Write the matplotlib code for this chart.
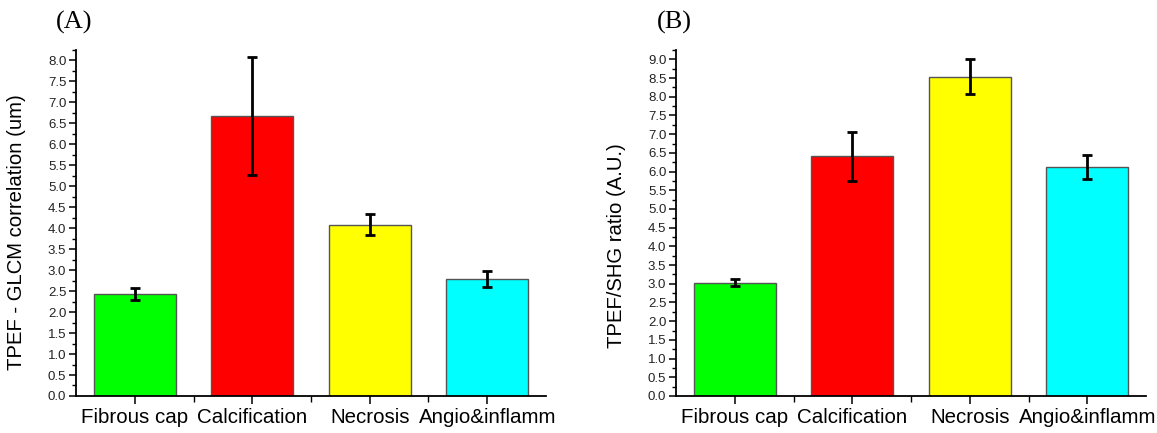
import matplotlib
matplotlib.use("Agg")
import matplotlib.pyplot as plt
from matplotlib.ticker import MultipleLocator, FixedLocator, FormatStrFormatter

categories = ["Fibrous cap", "Calcification", "Necrosis", "Angio&inflamm"]
colors = ["#00ff00", "#ff0000", "#ffff00", "#00ffff"]

glcm_values = [2.43, 6.68, 4.08, 2.79]
glcm_errors = [0.14, 1.40, 0.25, 0.18]

ratio_values = [3.03, 6.41, 8.54, 6.12]
ratio_errors = [0.09, 0.66, 0.46, 0.31]

plt.rcParams["font.family"] = ["Liberation Sans", "DejaVu Sans"]

fig = plt.figure(figsize=(11.57, 4.33), dpi=100)
ax_a = fig.add_axes([0.0657, 0.0855, 0.4062, 0.799])
ax_b = fig.add_axes([0.5843, 0.0855, 0.4062, 0.799])


def draw_panel(ax, values, errors, ylabel, ymax, label_y, panel_tag, tag_x):
    x = list(range(1, len(categories) + 1))
    ax.bar(x, values, width=0.7, color=colors, edgecolor="#555555",
           linewidth=1.0, zorder=2)
    ax.errorbar(x, values, yerr=errors, fmt="none", ecolor="black",
                elinewidth=2.0, capsize=3.5, capthick=2.0, zorder=3)
    ax.set_xlim(0.5, 4.5)
    ax.set_ylim(0, ymax)
    ax.spines["top"].set_visible(False)
    ax.spines["right"].set_visible(False)
    for s in ("left", "bottom"):
        ax.spines[s].set_linewidth(1.3)
        ax.spines[s].set_color("black")
    ax.yaxis.set_major_locator(MultipleLocator(0.5))
    ax.yaxis.set_minor_locator(MultipleLocator(0.25))
    ax.yaxis.set_major_formatter(FormatStrFormatter("%.1f"))
    ax.set_xticks(x)
    ax.set_xticklabels(categories, fontsize=14.8)
    ax.xaxis.set_minor_locator(FixedLocator([1.5, 2.5, 3.5]))
    ax.tick_params(axis="y", which="major", direction="out", length=5,
                   width=1.1, labelsize=9.5, pad=2, colors="black",
                   labelcolor="#222222")
    ax.tick_params(axis="y", which="minor", direction="out", length=3, width=1.0)
    ax.tick_params(axis="x", which="major", direction="out", length=6,
                   width=1.1, pad=3)
    ax.tick_params(axis="x", which="minor", direction="out", length=4, width=1.0)
    ax.set_ylabel(ylabel, fontsize=14.6)
    ax.yaxis.set_label_coords(-0.107, label_y)
    fig.text(tag_x, 0.949, panel_tag, fontsize=19, family="Liberation Serif",
             ha="center", va="center")


draw_panel(ax_a, glcm_values, glcm_errors,
           "TPEF - GLCM correlation (um)", 8.25, 0.474, "(A)", 0.064)
draw_panel(ax_b, ratio_values, ratio_errors,
           "TPEF/SHG ratio (A.U.)", 9.25, 0.434, "(B)", 0.5825)

fig.savefig("out.png", dpi=100)
